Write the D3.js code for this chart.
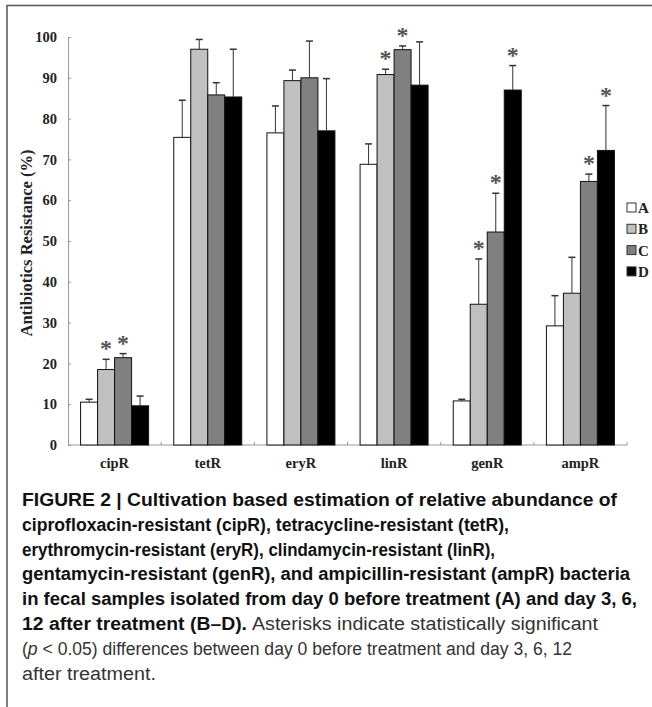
<!DOCTYPE html>
<html>
<head>
<meta charset="utf-8">
<script src="https://cdn.jsdelivr.net/npm/d3@7"></script>
<style>
  body { margin: 0; background: #fff; }
  svg { display: block; }
</style>
</head>
<body>
<svg width="652" height="707"></svg>
<script>
// data
const categories = ['cipR', 'tetR', 'eryR', 'linR', 'genR', 'ampR'];
const series = ['A', 'B', 'C', 'D'];
const valuesA = [10.5, 75.4, 76.5, 68.8, 10.8, 29.2];
const valuesB = [18.5, 97.0, 89.3, 90.8, 34.5, 37.2];
const valuesC = [21.4, 85.8, 90.0, 96.9, 52.2, 64.6];
const valuesD = [9.6, 85.3, 77.0, 88.2, 87.0, 72.2];
const errorsA = [0.7, 9.1, 6.6, 5.0, 0.4, 7.4];
const errorsB = [2.5, 2.4, 2.6, 1.3, 11.1, 8.8];
const errorsC = [1.0, 3.0, 9.0, 0.9, 9.5, 1.8];
const errorsD = [2.4, 11.7, 12.8, 10.6, 6.0, 11.0];
// asterisks: which series are significant in each category
const significant = [['B', 'C'], [], [], ['B', 'C'], ['B', 'C', 'D'], ['C', 'D']];
const yTicks = [0, 10, 20, 30, 40, 50, 60, 70, 80, 90, 100];
const colors = ['#ffffff', '#c0c0c0', '#808080', '#000000'];

// caption lines: pieces of [text, bold, italic]
const captionLines = [
  {w: 595, parts: [['FIGURE 2 | Cultivation based estimation of relative abundance of', 1, 0]]},
  {w: 487, parts: [['ciprofloxacin-resistant (cipR), tetracycline-resistant (tetR),', 1, 0]]},
  {w: 473, parts: [['erythromycin-resistant (eryR), clindamycin-resistant (linR),', 1, 0]]},
  {w: 608, parts: [['gentamycin-resistant (genR), and ampicillin-resistant (ampR) bacteria', 1, 0]]},
  {w: 615, parts: [['in fecal samples isolated from day 0 before treatment (A) and day 3, 6,', 1, 0]]},
  {w: 225, parts: [['12 after treatment (B\u2013D).', 1, 0]]},
  {w: 346, x: 252, parts: [['Asterisks indicate statistically significant', 0, 0]]},
  {w: 550, parts: [['(', 0, 0], ['p', 0, 1], [' < 0.05) differences between day 0 before treatment and day 3, 6, 12', 0, 0]]},
  {w: 134, parts: [['after treatment.', 0, 0]]}
];
const captionRow = [0, 1, 2, 3, 4, 5, 5, 6, 7];

(function () {
  const svg = d3.select('svg');
  const serif = '"Liberation Serif", "Times New Roman", serif';
  const sans = '"Liberation Sans Narrow", "Arial Narrow", "Liberation Sans", Arial, sans-serif';

  // frame
  svg.append('path')
    .attr('d', 'M7,707 V5.5 H652')
    .attr('fill', 'none')
    .attr('stroke', '#555')
    .attr('stroke-width', 1.5);

  const plotLeft = 68, plotRight = 627, plotTop = 37, plotBottom = 445;

  const x0 = d3.scaleBand().domain(categories).range([plotLeft, plotRight]);
  const x1 = d3.scaleBand().domain(series).range([0, x0.bandwidth()]).paddingOuter(0.74);
  const y = d3.scaleLinear().domain([0, 100]).range([plotBottom, plotTop]);

  const rows = series.map((s, i) => ({
    key: s,
    color: colors[i],
    values: [valuesA, valuesB, valuesC, valuesD][i],
    errors: [errorsA, errorsB, errorsC, errorsD][i]
  }));

  // y axis
  const yAxis = svg.append('g')
    .attr('transform', `translate(${plotLeft},0)`)
    .call(d3.axisLeft(y).tickValues(yTicks).tickSizeInner(-3).tickSizeOuter(0).tickPadding(11));
  yAxis.select('.domain').attr('stroke', '#999');
  yAxis.selectAll('.tick line').attr('stroke', '#999');
  yAxis.selectAll('text')
    .attr('font-family', serif)
    .attr('font-weight', 'bold')
    .attr('font-size', 14.5)
    .attr('fill', '#222');

  // x axis line with small inward ticks at the group borders
  svg.append('line')
    .attr('x1', plotLeft).attr('x2', plotRight)
    .attr('y1', plotBottom).attr('y2', plotBottom)
    .attr('stroke', '#999');
  svg.selectAll('.xtick')
    .data(categories.slice(1).map(c => x0(c)).concat([plotRight]))
    .join('line')
    .attr('class', 'xtick')
    .attr('x1', d => d).attr('x2', d => d)
    .attr('y1', plotBottom).attr('y2', plotBottom - 3)
    .attr('stroke', '#999');
  svg.selectAll('.xlabel')
    .data(categories)
    .join('text')
    .attr('class', 'xlabel')
    .attr('x', d => x0(d) + x0.bandwidth() / 2)
    .attr('y', 468)
    .attr('text-anchor', 'middle')
    .attr('font-family', serif)
    .attr('font-weight', 'bold')
    .attr('font-size', 14.5)
    .attr('fill', '#222')
    .text(d => d);

  // y title
  svg.append('text')
    .attr('transform', 'translate(32,243) rotate(-90)')
    .attr('text-anchor', 'middle')
    .attr('font-family', serif)
    .attr('font-weight', 'bold')
    .attr('font-size', 16.5)
    .attr('fill', '#222')
    .text('Antibiotics Resistance (%)');

  // bars and error bars
  const groups = svg.selectAll('.grp')
    .data(categories)
    .join('g')
    .attr('class', 'grp')
    .attr('transform', d => `translate(${x0(d)},0)`);

  groups.each(function (cat, ci) {
    const g = d3.select(this);
    rows.forEach(r => {
      const v = r.values[ci];
      const e = r.errors[ci];
      const bx = x1(r.key);
      const cx = bx + x1.bandwidth() / 2;
      g.append('rect')
        .attr('x', bx)
        .attr('y', y(v))
        .attr('width', x1.bandwidth())
        .attr('height', y(0) - y(v))
        .attr('fill', r.color)
        .attr('stroke', '#111')
        .attr('stroke-width', 1);
      g.append('line')
        .attr('x1', cx).attr('x2', cx)
        .attr('y1', y(v)).attr('y2', y(v + e))
        .attr('stroke', '#333');
      g.append('line')
        .attr('x1', cx - 3.5).attr('x2', cx + 3.5)
        .attr('y1', y(v + e)).attr('y2', y(v + e))
        .attr('stroke', '#333')
        .attr('stroke-width', 1.5);
      if (significant[ci].includes(r.key)) {
        g.append('text')
          .attr('x', cx)
          .attr('y', y(v + e) - 3)
          .attr('text-anchor', 'middle')
          .attr('font-family', serif)
          .attr('font-weight', 'bold')
          .attr('font-size', 24)
          .attr('fill', '#555')
          .text('*');
      }
    });
  });

  // legend
  const legend = svg.selectAll('.leg')
    .data(rows)
    .join('g')
    .attr('class', 'leg')
    .attr('transform', (d, i) => `translate(627,${208 + i * 21.3})`);
  legend.append('rect')
    .attr('x', 0).attr('y', -5)
    .attr('width', 9).attr('height', 9)
    .attr('fill', d => d.color)
    .attr('stroke', '#333');
  legend.append('text')
    .attr('x', 11).attr('y', 5)
    .attr('font-family', serif)
    .attr('font-weight', 'bold')
    .attr('font-size', 15)
    .attr('fill', '#222')
    .text(d => d.key);

  // caption
  captionLines.forEach((line, li) => {
    const t = svg.append('text')
      .attr('x', line.x || 22)
      .attr('y', 506 + captionRow[li] * 24.8)
      .attr('font-family', sans)
      .attr('font-size', 18)
      .attr('textLength', line.w)
      .attr('lengthAdjust', 'spacingAndGlyphs');
    line.parts.forEach(p => {
      t.append('tspan')
        .attr('font-weight', p[1] ? 'bold' : 'normal')
        .attr('font-style', p[2] ? 'italic' : 'normal')
        .attr('fill', p[1] ? '#111' : '#333')
        .text(p[0]);
    });
  });
})();
</script>
</body>
</html>
